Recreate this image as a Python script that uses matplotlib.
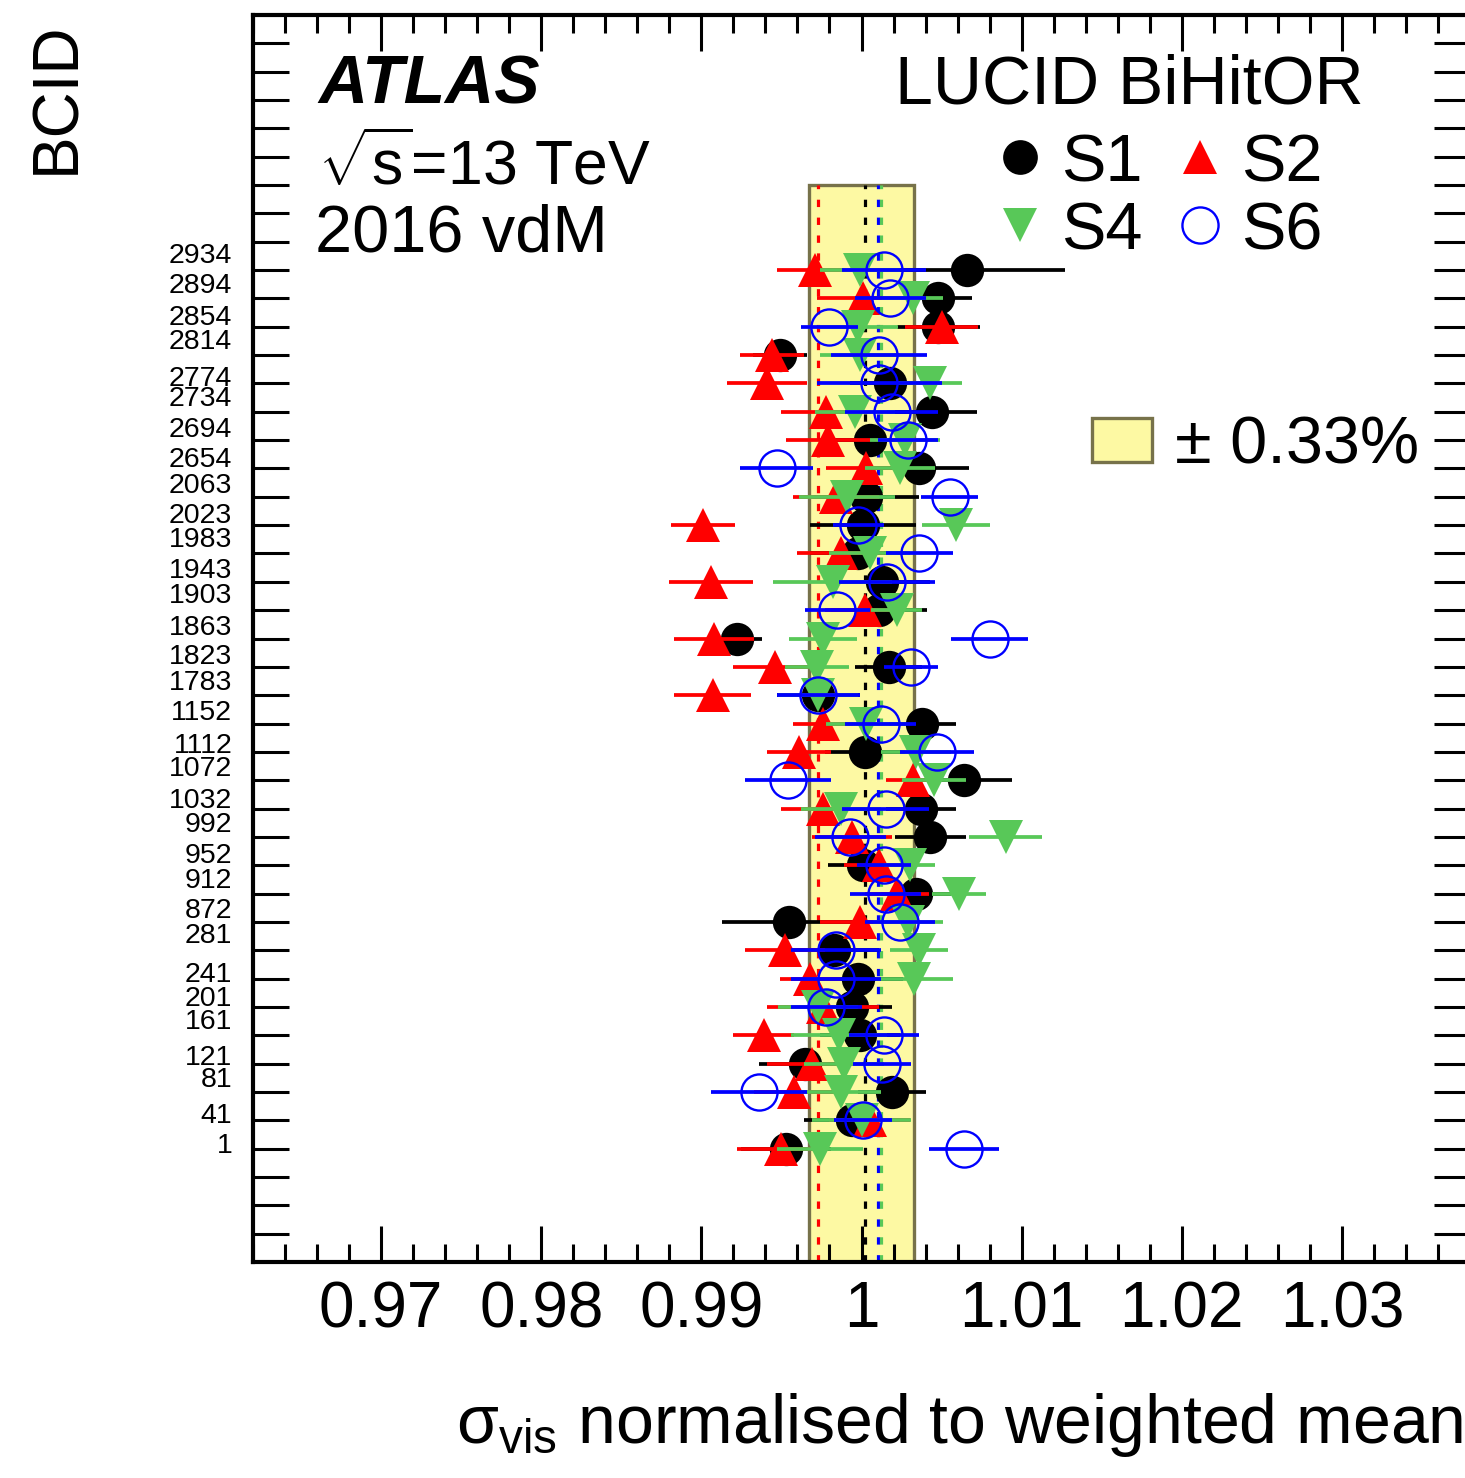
import numpy as np
import matplotlib
matplotlib.use("Agg")
import matplotlib.pyplot as plt
from matplotlib.lines import Line2D
from matplotlib.patches import Rectangle
from matplotlib.ticker import MultipleLocator

plt.rcParams["font.family"] = ["Liberation Sans", "DejaVu Sans"]
plt.rcParams["mathtext.fontset"] = "custom"
plt.rcParams["mathtext.rm"] = "Liberation Sans"
plt.rcParams["mathtext.it"] = "Liberation Sans:italic"
plt.rcParams["mathtext.bf"] = "Liberation Sans:bold"

# ---- data: bunch crossings (bottom to top) and normalised sigma_vis per scan ----
bcid = [1, 41, 81, 121, 161, 201, 241, 281, 872, 912, 952, 992, 1032, 1072,
        1112, 1152, 1783, 1823, 1863, 1903, 1943, 1983, 2023, 2063, 2654, 2694,
        2734, 2774, 2814, 2854, 2894, 2934]

s1 = [0.9953, 0.9994, 1.0019, 0.9965, 0.9999, 0.9994, 0.9998, 0.9983, 0.9955,
      1.0034, 1.0001, 1.0043, 1.0037, 1.0064, 1.0002, 1.0038, 0.9973, 1.0017,
      0.9922, 1.0011, 1.0013, 0.9998, 1.0001, 1.0003, 1.0036, 1.0005, 1.0044,
      1.0018, 0.9949, 1.0048, 1.0048, 1.0066]
s1_err = [0.0028, 0.0030, 0.0021, 0.0029, 0.0025, 0.0025, 0.0028, 0.0028, 0.0042,
          0.0022, 0.0022, 0.0022, 0.0022, 0.0030, 0.0025, 0.0021, 0.0026, 0.0021,
          0.0016, 0.0030, 0.0030, 0.0030, 0.0033, 0.0033, 0.0031, 0.0027, 0.0028,
          0.0025, 0.0017, 0.0026, 0.0021, 0.0061]

s2 = [0.9950, 1.0005, 0.9958, 0.9969, 0.9939, 0.9976, 0.9968, 0.9952, 0.9999,
      1.0022, 1.0011, 0.9994, 0.9976, 1.0032, 0.9961, 0.9976, 0.9907, 0.9946,
      0.9908, 1.0002, 0.9906, 0.9987, 0.9901, 0.9984, 1.0003, 0.9979, 0.9978,
      0.9941, 0.9944, 1.0050, 1.0001, 0.9971]
s2_err = [0.0028, 0.0025, 0.0025, 0.0028, 0.0019, 0.0035, 0.0019, 0.0025, 0.0025,
          0.0020, 0.0022, 0.0025, 0.0026, 0.0017, 0.0020, 0.0019, 0.0024, 0.0026,
          0.0025, 0.0025, 0.0026, 0.0027, 0.0020, 0.0027, 0.0025, 0.0026, 0.0028,
          0.0025, 0.0020, 0.0023, 0.0029, 0.0024]

s4 = [0.9974, 1.0000, 0.9987, 0.9989, 0.9986, 0.9973, 1.0033, 1.0036, 1.0029,
      1.0061, 1.0030, 1.0090, 0.9987, 1.0045, 1.0034, 1.0003, 0.9973, 0.9972,
      0.9976, 1.0022, 0.9982, 1.0005, 1.0059, 0.9991, 1.0024, 1.0027, 0.9996,
      1.0043, 0.9999, 0.9998, 1.0032, 0.9999]
s4_err = [0.0027, 0.0031, 0.0025, 0.0025, 0.0030, 0.0025, 0.0024, 0.0018, 0.0022,
          0.0017, 0.0016, 0.0023, 0.0025, 0.0020, 0.0022, 0.0025, 0.0025, 0.0020,
          0.0021, 0.0016, 0.0037, 0.0025, 0.0021, 0.0030, 0.0022, 0.0022, 0.0025,
          0.0020, 0.0025, 0.0025, 0.0019, 0.0025]

s6 = [1.0064, 1.0001, 0.9936, 1.0013, 1.0014, 0.9978, 0.9984, 0.9984, 1.0024,
      1.0015, 1.0014, 0.9993, 1.0015, 0.9954, 1.0047, 1.0012, 0.9973, 1.0031,
      1.0080, 0.9985, 1.0016, 1.0036, 0.9998, 1.0055, 0.9947, 1.0029, 1.0019,
      1.0011, 1.0011, 0.9980, 1.0018, 1.0014]
s6_err = [0.0022, 0.0018, 0.0030, 0.0018, 0.0022, 0.0022, 0.0028, 0.0028, 0.0022,
          0.0022, 0.0017, 0.0022, 0.0027, 0.0027, 0.0023, 0.0022, 0.0026, 0.0017,
          0.0024, 0.0020, 0.0030, 0.0021, 0.0016, 0.0018, 0.0023, 0.0019, 0.0029,
          0.0039, 0.0030, 0.0018, 0.0022, 0.0026]

# weighted means of each scan set and the quoted consistency band
mean_s1, mean_s2, mean_s4, mean_s6 = 1.0002, 0.9973, 1.0012, 1.0010
band_halfwidth = 0.0033

x_ticks = [0.97, 0.98, 0.99, 1.00, 1.01, 1.02, 1.03]
x_ticklabels = ["0.97", "0.98", "0.99", "1", "1.01", "1.02", "1.03"]

# vertical placement of the BCID labels along the y axis
bcid_label_pos = [4.20, 5.26, 6.53, 7.30, 8.57, 9.39, 10.23, 11.61, 12.49, 13.55,
                  14.43, 15.53, 16.37, 17.50, 18.31, 19.48, 20.54, 21.45, 22.48,
                  23.61, 24.49, 25.58, 26.43, 27.49, 28.40, 29.46, 30.56, 31.26,
                  32.57, 33.42, 34.54, 35.60]

# ---- figure ----
W, H = 1465, 1478
fig = plt.figure(figsize=(W / 100, H / 100), dpi=100)
ax = fig.add_axes([253 / W, 1 - 1262 / H, (1470 - 253) / W, (1262 - 15) / H])

row = np.arange(len(bcid)) + 4
y_top = 38

green = "#58c858"
ax.add_patch(Rectangle((1 - band_halfwidth, 0), 2 * band_halfwidth, y_top,
                       facecolor="#fdf9a3", edgecolor="#77724a", lw=2.4, zorder=1))
dash = (0, (2.3, 3.3))
for xm, c in [(mean_s2, "red"), (mean_s1, "black"), (mean_s6, "blue"), (mean_s4, green)]:
    ax.vlines(xm, 0, y_top, colors=c, linestyles=[dash], lw=2.3, zorder=2)

ekw = dict(elinewidth=2.7, capsize=0, linestyle="none")
ax.errorbar(s1, row, xerr=s1_err, fmt="o", color="black", ms=24, mew=0, zorder=3, **ekw)
ax.errorbar(s2, row, xerr=s2_err, fmt="^", color="red", ms=24, mew=0, zorder=4, **ekw)
ax.errorbar(s4, row, xerr=s4_err, fmt="v", color=green, ms=24, mew=0, zorder=5, **ekw)
ax.errorbar(s6, row, xerr=s6_err, fmt="o", color="blue", mfc="none", mec="blue",
            ms=26, mew=1.7, zorder=6, **ekw)

ax.set_xlim(0.962, 1.038)
ax.set_ylim(0, 44)

ax.set_xticks(x_ticks)
ax.set_xticklabels(x_ticklabels)
ax.xaxis.set_minor_locator(MultipleLocator(0.002))
ax.set_yticks(np.arange(1, 44))
ax.set_yticklabels([])
ax.set_yticks(bcid_label_pos, minor=True)
ax.set_yticklabels([str(b) for b in bcid], minor=True)

ax.tick_params(axis="both", which="both", direction="in", top=True, right=True,
               width=2.2, color="black")
ax.tick_params(axis="x", which="major", length=26, labelsize=46, pad=13)
ax.tick_params(axis="x", which="minor", length=13)
ax.tick_params(axis="y", which="major", length=26)
ax.tick_params(axis="y", which="minor", length=0, labelsize=20.5, pad=15,
               labelright=False)
for s in ax.spines.values():
    s.set_linewidth(3)


def fx(px):
    return px / W


def fy(py):
    return 1 - py / H


# axis titles
fig.text(fx(1463), fy(1443), "σ$_{\\mathrm{vis}}$ normalised to weighted mean",
         ha="right", va="baseline", fontsize=49)
fig.text(fx(57), fy(22), "BCID", rotation=90, ha="center", va="top", fontsize=46)

# experiment labels
fig.text(fx(318), fy(104), "ATLAS", fontsize=49, fontweight="bold", fontstyle="italic",
         va="baseline")
fig.text(fx(318), fy(185), r"$\sqrt{\mathrm{s}}$=13 TeV", fontsize=45, va="baseline")
fig.text(fx(315), fy(252), "2016 vdM", fontsize=48, va="baseline")
fig.text(fx(895), fy(104), "LUCID BiHitOR", fontsize=49, va="baseline")

# key
key = [("S1", 1020, 157, dict(marker="o", color="black", ms=25, mew=0)),
       ("S2", 1200, 157, dict(marker="^", color="red", ms=25, mew=0)),
       ("S4", 1020, 225, dict(marker="v", color=green, ms=25, mew=0)),
       ("S6", 1200, 225, dict(marker="o", color="blue", mfc="none", ms=26, mew=1.7))]
for name, mx, my, st in key:
    fig.add_artist(Line2D([fx(mx)], [fy(my)], transform=fig.transFigure, linestyle="none", **st))
    fig.text(fx(mx + 41), fy(my), name, fontsize=48, va="center_baseline")

fig.add_artist(Rectangle((fx(1092), fy(462)), fx(1152) - fx(1092), fy(418) - fy(462),
                         transform=fig.transFigure, facecolor="#fdf9a3",
                         edgecolor="#77724a", lw=2.4))
fig.text(fx(1175), fy(440), "± 0.33%", fontsize=48, va="center_baseline")

fig.savefig("out.png", dpi=100)
